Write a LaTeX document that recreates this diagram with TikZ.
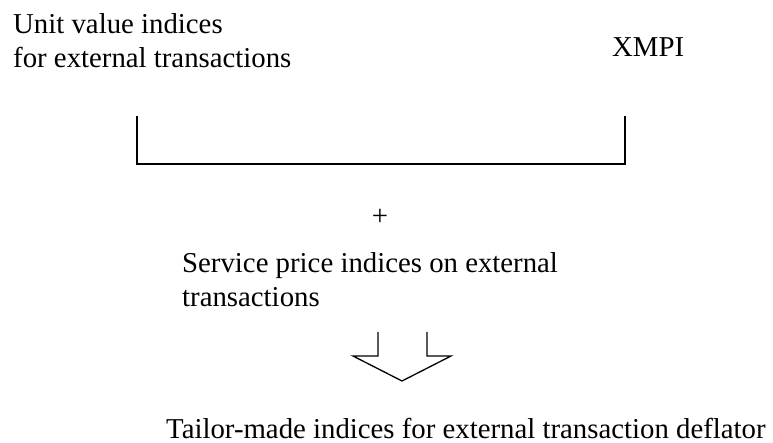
\documentclass[tikz,border=0pt]{standalone}
\usepackage{fontspec}
\setmainfont{Liberation Serif}
\tikzset{
  lbl/.style={anchor=base west, inner sep=0pt, font=\fontsize{28.9}{34}\selectfont},
  bracketline/.style={line width=1.6bp, line cap=butt, line join=miter},
  arrowline/.style={line width=1.3bp, line join=miter}
}
\begin{document}
\begin{tikzpicture}[x=1bp,y=-1bp]
\path[use as bounding box] (0,0) rectangle (773,443);
% top texts
\node[lbl] (uv1) at (13,34) {Unit value indices};
\node[lbl] (uv2) at (13,68) {for external transactions};
\node[lbl] (xmpi) at (612,57) {XMPI};
% bracket
\coordinate (bl) at (137,116);
\coordinate (br) at (625,116);
\draw[bracketline] (bl) |- (625,164) -- (br);
% plus
\node[lbl, anchor=base] (plus) at (380,226) {+};
% service price indices
\node[lbl] (sp1) at (182,273) {Service price indices on external};
\node[lbl] (sp2) at (182,307) {transactions};
% hollow arrow
\coordinate (a1) at (378,332);
\coordinate (a2) at (378,356);
\coordinate (a3) at (353,356);
\coordinate (tip) at (402,381);
\coordinate (a5) at (451,356);
\coordinate (a6) at (427,356);
\coordinate (a7) at (427,332);
\draw[arrowline] (a1) -- (a2) -- (a3) -- (tip) -- (a5) -- (a6) -- (a7);
% result
\node[lbl] (res) at (166,438) {Tailor-made indices for external transaction deflator};
\end{tikzpicture}
\end{document}
